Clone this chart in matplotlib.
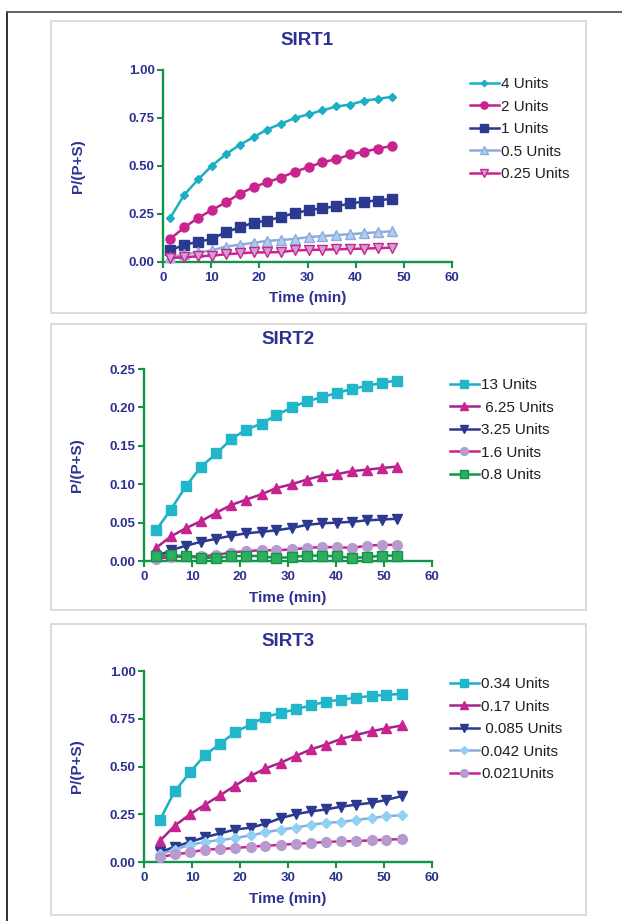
import matplotlib
matplotlib.use("Agg")
import matplotlib.pyplot as plt
from matplotlib.lines import Line2D
from matplotlib.patches import Rectangle

plt.rcParams["font.family"] = ["Liberation Sans", "DejaVu Sans"]

W, H = 622, 921
NAVY = "#2E3192"
GREEN = "#13944B"
FRAME = "#D8D3CC"

# SIRT1 time course
sirt1_time = [1.5, 4.4, 7.3, 10.1, 13.0, 15.9, 18.8, 21.6, 24.5, 27.4, 30.3, 33.1, 36.0, 38.9, 41.8, 44.6, 47.5]
sirt1_labels = ["4 Units", "2 Units", "1 Units", "0.5 Units", "0.25 Units"]
sirt1_4u = [0.23, 0.35, 0.43, 0.50, 0.56, 0.61, 0.65, 0.69, 0.72, 0.75, 0.77, 0.79, 0.81, 0.82, 0.84, 0.85, 0.86]
sirt1_2u = [0.12, 0.18, 0.23, 0.27, 0.31, 0.355, 0.39, 0.415, 0.44, 0.47, 0.495, 0.52, 0.535, 0.56, 0.575, 0.59, 0.605]
sirt1_1u = [0.06, 0.09, 0.105, 0.12, 0.155, 0.18, 0.205, 0.215, 0.235, 0.255, 0.27, 0.28, 0.29, 0.305, 0.315, 0.32, 0.33]
sirt1_05u = [0.025, 0.04, 0.05, 0.06, 0.08, 0.09, 0.10, 0.11, 0.115, 0.12, 0.13, 0.135, 0.14, 0.145, 0.15, 0.155, 0.16]
sirt1_025u = [0.02, 0.025, 0.03, 0.033, 0.04, 0.045, 0.05, 0.05, 0.052, 0.06, 0.063, 0.064, 0.066, 0.068, 0.07, 0.072, 0.075]

# SIRT2 time course
sirt2_time = [2.5, 5.6, 8.8, 11.9, 15.1, 18.2, 21.3, 24.5, 27.6, 30.8, 33.9, 37.0, 40.2, 43.3, 46.5, 49.6, 52.7]
sirt2_labels = ["13 Units", " 6.25 Units", "3.25 Units", "1.6 Units", "0.8 Units"]
sirt2_13u = [0.040, 0.067, 0.098, 0.123, 0.140, 0.159, 0.171, 0.179, 0.190, 0.200, 0.208, 0.213, 0.219, 0.224, 0.228, 0.232, 0.235]
sirt2_625u = [0.017, 0.032, 0.043, 0.052, 0.063, 0.073, 0.080, 0.087, 0.095, 0.100, 0.106, 0.111, 0.113, 0.117, 0.119, 0.121, 0.123]
sirt2_325u = [0.006, 0.014, 0.020, 0.025, 0.029, 0.033, 0.036, 0.038, 0.040, 0.043, 0.047, 0.049, 0.050, 0.051, 0.053, 0.054, 0.055]
sirt2_16u = [0.003, 0.005, 0.006, 0.006, 0.008, 0.011, 0.013, 0.014, 0.014, 0.015, 0.017, 0.018, 0.018, 0.017, 0.020, 0.021, 0.021]
sirt2_08u = [0.006, 0.008, 0.006, 0.004, 0.004, 0.006, 0.007, 0.006, 0.004, 0.005, 0.007, 0.007, 0.006, 0.004, 0.005, 0.007, 0.007]

# SIRT3 time course
sirt3_time = [3.3, 6.4, 9.6, 12.7, 15.9, 19.0, 22.2, 25.3, 28.5, 31.6, 34.8, 37.9, 41.1, 44.2, 47.4, 50.5, 53.7]
sirt3_labels = ["0.34 Units", "0.17 Units", " 0.085 Units", "0.042 Units", "0.021Units"]
sirt3_034u = [0.22, 0.37, 0.47, 0.56, 0.62, 0.68, 0.72, 0.76, 0.78, 0.80, 0.82, 0.84, 0.85, 0.86, 0.87, 0.875, 0.88]
sirt3_017u = [0.11, 0.19, 0.25, 0.30, 0.35, 0.40, 0.45, 0.49, 0.52, 0.555, 0.59, 0.615, 0.645, 0.665, 0.685, 0.70, 0.715]
sirt3_0085u = [0.05, 0.08, 0.105, 0.13, 0.15, 0.17, 0.18, 0.20, 0.23, 0.25, 0.265, 0.275, 0.29, 0.30, 0.31, 0.325, 0.345]
sirt3_0042u = [0.04, 0.065, 0.09, 0.105, 0.115, 0.125, 0.14, 0.155, 0.17, 0.18, 0.195, 0.205, 0.21, 0.22, 0.23, 0.24, 0.245]
sirt3_0021u = [0.025, 0.04, 0.05, 0.065, 0.068, 0.073, 0.08, 0.085, 0.09, 0.095, 0.10, 0.105, 0.108, 0.11, 0.113, 0.117, 0.12]

# (line colour, marker, marker size, marker face, marker edge)
sirt1_styles = [
    ("#1AAFC4", "D", 4.0, "#1AAFC4", "#1AAFC4"),
    ("#C2218C", "o", 6.5, "#C8238F", "#C8238F"),
    ("#2B3990", "s", 6.5, "#2B3990", "#2B3990"),
    ("#8FAADC", "^", 7.0, "#A9CFF0", "#8FAADC"),
    ("#D0208C", "v", 7.0, "#C9A3D6", "#D0208C"),
]
sirt2_styles = [
    ("#1AAFC4", "s", 7.5, "#22B6CA", "#22B6CA"),
    ("#A3248F", "^", 6.5, "#C8238F", "#C8238F"),
    ("#2B3990", "v", 6.5, "#2B3990", "#2B3990"),
    ("#D0208C", "o", 7.0, "#B79AD0", "#B79AD0"),
    ("#13944B", "s", 7.0, "#2FAE5E", "#13944B"),
]
sirt3_styles = [
    ("#1AAFC4", "s", 7.5, "#22B6CA", "#22B6CA"),
    ("#A3248F", "^", 6.5, "#C8238F", "#C8238F"),
    ("#2B3990", "v", 6.5, "#2B3990", "#2B3990"),
    ("#8FAADC", "D", 4.8, "#8FD0F5", "#8FD0F5"),
    ("#D0208C", "o", 7.0, "#B79AD0", "#B79AD0"),
]


def px_rect(left, top, right, bottom):
    return [left / W, 1 - bottom / H, (right - left) / W, (bottom - top) / H]


def draw_panel(fig, rect, title, time, series, labels, styles, ymax, yticks, yfmt,
               ylabel_x, xlabel_y, legend_anchor):
    ax = fig.add_axes(px_rect(*rect))
    for values, label, (lc, mk, ms, mfc, mec) in zip(series, labels, styles):
        ax.plot(time, values, color=lc, linewidth=1.8, marker=mk, markersize=ms,
                markerfacecolor=mfc, markeredgecolor=mec, markeredgewidth=1.0,
                label=label, clip_on=False, zorder=3)
    ax.set_xlim(0, 60)
    ax.set_ylim(0, ymax)
    ax.set_xticks([0, 10, 20, 30, 40, 50, 60])
    ax.set_yticks(yticks)
    ax.set_yticklabels([yfmt.format(v) for v in yticks])
    for side in ("top", "right"):
        ax.spines[side].set_visible(False)
    for side in ("left", "bottom"):
        ax.spines[side].set_color(GREEN)
        ax.spines[side].set_linewidth(1.7)
    ax.tick_params(axis="both", direction="out", color=GREEN, width=1.5, length=4,
                   labelcolor=NAVY, labelsize=9.5)
    ax.tick_params(axis="x", pad=3.5)
    ax.tick_params(axis="y", pad=2)
    for lbl in ax.get_xticklabels() + ax.get_yticklabels():
        lbl.set_fontweight("bold")

    ax.set_title(title, fontsize=13.5, fontweight="bold", color=NAVY, pad=18)
    ax.set_xlabel("Time (min)", fontsize=11, fontweight="bold", color=NAVY)
    ax.set_ylabel("P/(P+S)", fontsize=11, fontweight="bold", color=NAVY)
    ax.xaxis.set_label_coords(0.5, xlabel_y)
    ax.yaxis.set_label_coords(ylabel_x, 0.5)

    leg = ax.legend(loc="upper left", bbox_to_anchor=legend_anchor, frameon=False,
                    fontsize=11, handlelength=1.9, handletextpad=0.15,
                    labelspacing=0.56, borderaxespad=0, markerscale=0.8)
    for text in leg.get_texts():
        text.set_color("#231F20")
    return ax


fig = plt.figure(figsize=(W / 100, H / 100), dpi=100)

# outer rule on the left and top edges
fig.add_artist(Line2D([7 / W, 7 / W], [0, 1 - 12 / H], color="#222222", linewidth=1.3))
fig.add_artist(Line2D([7 / W, 1], [1 - 12 / H, 1 - 12 / H], color="#555555", linewidth=1.3))

# one light frame around each panel
for top, bottom in [(21, 313), (324, 610), (624, 915)]:
    l, b, w, h = px_rect(51, top, 586, bottom)
    fig.add_artist(Rectangle((l, b), w, h, transform=fig.transFigure, fill=False,
                             edgecolor=FRAME, linewidth=1.2))

draw_panel(fig, (163, 70, 452, 262), "SIRT1", sirt1_time,
           [sirt1_4u, sirt1_2u, sirt1_1u, sirt1_05u, sirt1_025u],
           sirt1_labels, sirt1_styles, 1.0, [0.0, 0.25, 0.5, 0.75, 1.0], "{:.2f}",
           -0.27, -0.15, (1.04, 0.995))
draw_panel(fig, (144, 369, 432, 561), "SIRT2", sirt2_time,
           [sirt2_13u, sirt2_625u, sirt2_325u, sirt2_16u, sirt2_08u],
           sirt2_labels, sirt2_styles, 0.25, [0.0, 0.05, 0.10, 0.15, 0.20, 0.25], "{:.2f}",
           -0.21, -0.155, (1.04, 0.985))
draw_panel(fig, (144, 671, 432, 862), "SIRT3", sirt3_time,
           [sirt3_034u, sirt3_017u, sirt3_0085u, sirt3_0042u, sirt3_0021u],
           sirt3_labels, sirt3_styles, 1.0, [0.0, 0.25, 0.5, 0.75, 1.0], "{:.2f}",
           -0.21, -0.155, (1.04, 1.0))

fig.savefig("out.png", dpi=100)
